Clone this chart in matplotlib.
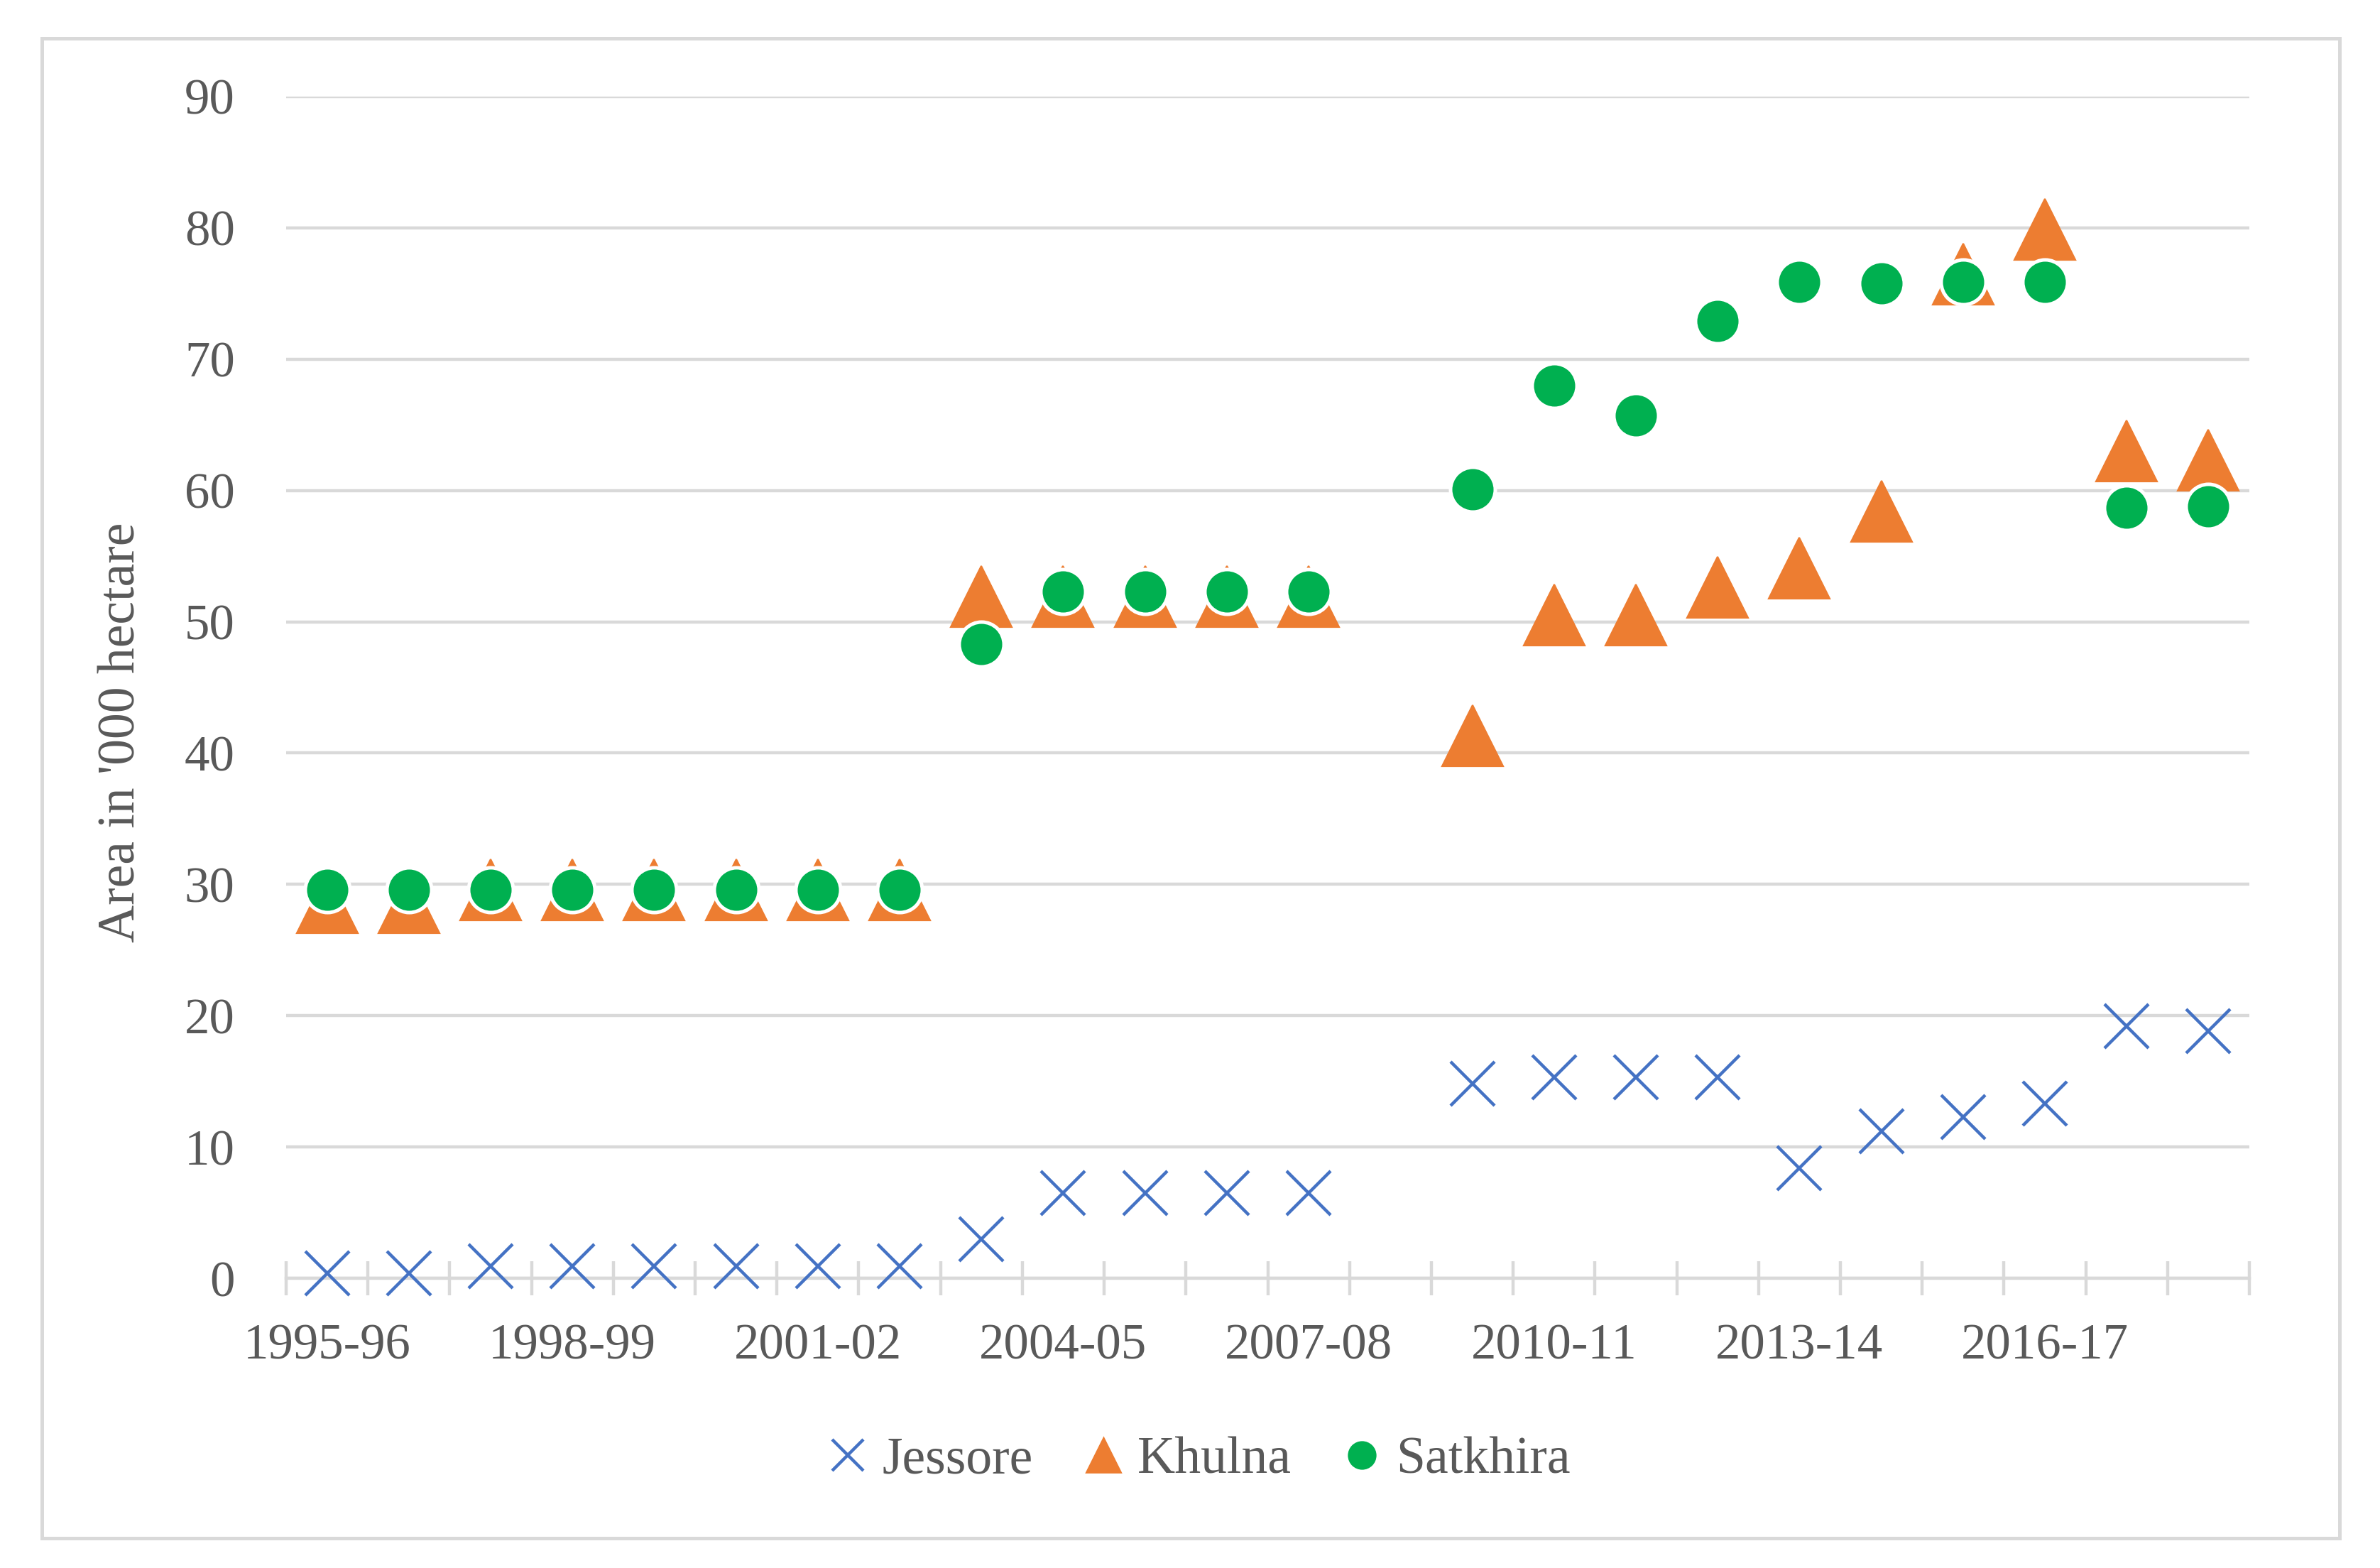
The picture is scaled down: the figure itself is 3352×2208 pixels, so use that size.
import numpy as np
import matplotlib
matplotlib.use("Agg")
import matplotlib.pyplot as plt
from matplotlib.lines import Line2D
from matplotlib.patches import Rectangle

nan = np.nan
years = ['1995-96', '1996-97', '1997-98', '1998-99', '1999-00', '2000-01',
         '2001-02', '2002-03', '2003-04', '2004-05', '2005-06', '2006-07',
         '2007-08', '2008-09', '2009-10', '2010-11', '2011-12', '2012-13',
         '2013-14', '2014-15', '2015-16', '2016-17', '2017-18', '2018-19']
jessore = [0.4, 0.4, 0.9, 0.9, 0.9, 0.9, 0.9, 0.9, 3.0, 6.5, 6.5, 6.5,
           6.5, nan, 14.8, 15.3, 15.3, 15.3, 8.4, 11.2, 12.3, 13.3, 19.2, 18.8]
khulna = [28.6, 28.6, 29.6, 29.6, 29.6, 29.6, 29.6, 29.6, 51.9, 51.9, 51.9, 51.9,
          51.9, nan, 41.3, 50.5, 50.5, 52.6, 54.1, 58.4, 76.5, 79.9, 63.0, 62.3]
satkhira = [29.6, 29.6, 29.6, 29.6, 29.6, 29.6, 29.6, 29.6, 48.3, 52.3, 52.3, 52.3,
            52.3, nan, 60.1, 68.0, 65.7, 72.9, 75.9, 75.8, 75.9, 75.9, 58.7, 58.8]
series_names = ['Jessore', 'Khulna', 'Satkhira']
yticks = [0, 10, 20, 30, 40, 50, 60, 70, 80, 90]

BLUE = '#4472C4'
ORANGE = '#ED7D31'
GREEN = '#00B050'
GRID = '#D9D9D9'
TEXT = '#595959'

plt.rcParams['font.family'] = ['Liberation Serif', 'DejaVu Serif']

W, H = 3352, 2208
DPI = 200
fig = plt.figure(figsize=(W / DPI, H / DPI), dpi=DPI)
fig.patch.set_facecolor('white')

# outer chart border
fig.patches.append(Rectangle((59 / W, 1 - 2166 / H), (3295 - 59) / W, (2166 - 54) / H,
                             transform=fig.transFigure, fill=False,
                             edgecolor=GRID, linewidth=1.8, zorder=0))

ax = fig.add_axes([403 / W, 1 - 1800 / H, (3168 - 403) / W, (1800 - 136) / H])
x = np.arange(len(years))

ax.plot(x, jessore, linestyle='none', marker='x', markersize=22.5,
        markeredgewidth=1.6, color=BLUE, zorder=3, clip_on=False)
ax.plot(x, khulna, linestyle='none', marker='^', markersize=31,
        markerfacecolor=ORANGE, markeredgecolor=ORANGE, markeredgewidth=0.8,
        zorder=4, clip_on=False)
ax.plot(x, satkhira, linestyle='none', marker='o', markersize=22.7,
        markerfacecolor=GREEN, markeredgecolor='white', markeredgewidth=1.8,
        zorder=5, clip_on=False)

ax.set_xlim(-0.5, len(years) - 0.5)
ax.set_ylim(0, 90)
ax.set_yticks(yticks)
ax.set_yticklabels([str(v) for v in yticks])
ax.yaxis.grid(True, color=GRID, linewidth=1.6)
ax.set_axisbelow(True)

major = list(range(0, len(years), 3))
ax.set_xticks(major)
ax.set_xticklabels([years[i] for i in major])
ax.set_xticks(np.arange(-0.5, len(years), 1.0), minor=True)
ax.tick_params(axis='x', which='major', length=0, pad=23, labelsize=25.5, labelcolor=TEXT)
ax.tick_params(axis='x', which='minor', length=17.6, width=1.6, direction='inout', color=GRID)
ax.tick_params(axis='y', which='both', length=0, pad=26, labelsize=25.5, labelcolor=TEXT)

for s in ['top', 'right', 'left']:
    ax.spines[s].set_visible(False)
ax.spines['bottom'].set_color(GRID)
ax.spines['bottom'].set_linewidth(1.6)

fig.text(172 / W, 1 - 1031 / H, "Area in '000 hectare", rotation=90,
         ha='center', va='center', fontsize=26.5, color=TEXT)

handles = [
    Line2D([], [], linestyle='none', marker='x', markersize=16, markeredgewidth=1.6, color=BLUE),
    Line2D([], [], linestyle='none', marker='^', markersize=17, color=ORANGE),
    Line2D([], [], linestyle='none', marker='o', markersize=13.5, color=GREEN),
]
leg = fig.legend(handles, series_names, loc='center', ncol=3, frameon=False,
                 bbox_to_anchor=(1690 / W, 1 - 2057 / H), fontsize=26.5,
                 handlelength=0.7, handletextpad=0.3, columnspacing=1.0)
for t in leg.get_texts():
    t.set_color(TEXT)

fig.savefig('out.png', dpi=DPI, facecolor='white')
